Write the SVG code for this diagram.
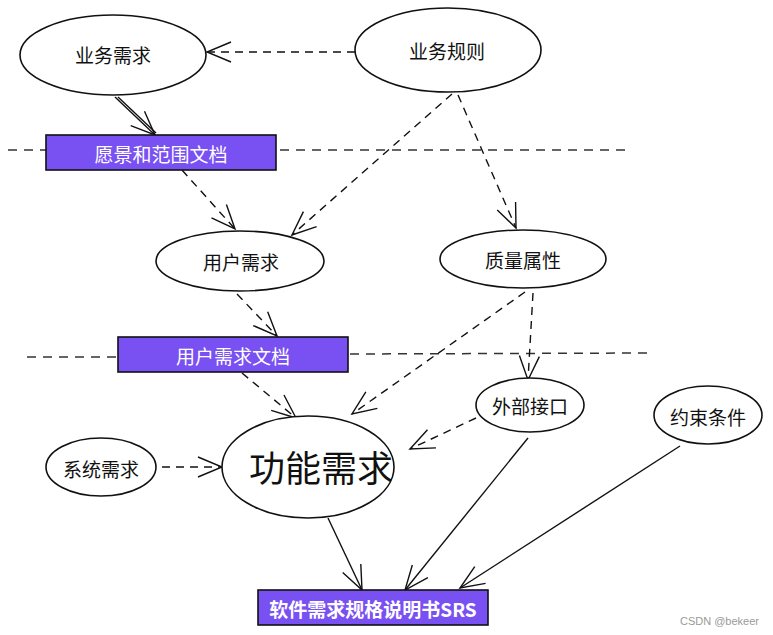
<svg xmlns="http://www.w3.org/2000/svg" width="773" height="635" viewBox="0 0 773 635">
<defs>
<marker id="arr" markerUnits="userSpaceOnUse" markerWidth="28" markerHeight="24" refX="25" refY="11" orient="auto" overflow="visible">
<path d="M1,1 L25,11 L1,21" fill="none" stroke="#111" stroke-width="1.4"/>
</marker>
<style>
.el{fill:#fff;stroke:#111;stroke-width:1.6}
.box{fill:#7950f2;stroke:#111;stroke-width:1.6}
.t{font-family:"Noto Sans CJK SC","Liberation Sans",sans-serif;font-size:19px;fill:#111;text-anchor:middle;dominant-baseline:central}
.tw{font-family:"Noto Sans CJK SC","Liberation Sans",sans-serif;font-size:19px;fill:#fff;text-anchor:middle;dominant-baseline:central}
.d{fill:none;stroke:#111;stroke-width:1.4;stroke-dasharray:8 6}
.s{fill:none;stroke:#111;stroke-width:1.4}
.sep{fill:none;stroke:#333;stroke-width:1.5;stroke-dasharray:9 7}
</style>
</defs>
<rect width="773" height="635" fill="#fff"/>
<g id="separators">
<line class="sep" x1="8" y1="150" x2="46" y2="150"/>
<line class="sep" x1="280" y1="150" x2="632" y2="150"/>
<line class="sep" x1="27" y1="357" x2="118" y2="357"/>
<line class="sep" x1="350" y1="354" x2="650" y2="353"/>
</g>
<g id="connectors">
<line class="d" x1="355" y1="52" x2="207" y2="52" marker-end="url(#arr)"/>
<line class="s" x1="115" y1="97" x2="155" y2="135" marker-end="url(#arr)"/>
<line class="s" x1="118" y1="97" x2="156" y2="133"/>
<line class="d" x1="182" y1="170" x2="235" y2="229" marker-end="url(#arr)"/>
<line class="d" x1="452" y1="94" x2="292" y2="235" marker-end="url(#arr)"/>
<line class="d" x1="458" y1="95" x2="516" y2="228" marker-end="url(#arr)"/>
<line class="d" x1="237" y1="294" x2="277" y2="336" marker-end="url(#arr)"/>
<line class="d" x1="242" y1="373" x2="296" y2="418" marker-end="url(#arr)"/>
<line class="d" x1="525" y1="292" x2="352" y2="414" marker-end="url(#arr)"/>
<line class="d" x1="533" y1="293" x2="528" y2="380" marker-end="url(#arr)"/>
<line class="d" x1="476" y1="418" x2="410" y2="449" marker-end="url(#arr)"/>
<line class="d" x1="162" y1="467" x2="222" y2="467" marker-end="url(#arr)"/>
<line class="s" x1="328" y1="518" x2="362" y2="590" marker-end="url(#arr)"/>
<line class="s" x1="528" y1="438" x2="405" y2="590" marker-end="url(#arr)"/>
<line class="s" x1="680" y1="446" x2="460" y2="588" marker-end="url(#arr)"/>
</g>
<g id="n-yewuxuqiu">
<ellipse class="el" cx="113" cy="55" rx="93" ry="40"/>
<text class="t" x="113" y="54">业务需求</text>
</g>
<g id="n-yewuguize">
<ellipse class="el" cx="448" cy="50" rx="93" ry="42"/>
<text class="t" x="447" y="50">业务规则</text>
</g>
<g id="n-yuanjing">
<rect class="box" x="46" y="135" width="230" height="35"/>
<text class="tw" x="161" y="153">愿景和范围文档</text>
</g>
<g id="n-yonghuxuqiu">
<ellipse class="el" cx="240" cy="261" rx="84" ry="30"/>
<text class="t" x="241" y="261">用户需求</text>
</g>
<g id="n-zhiliang">
<ellipse class="el" cx="523" cy="259" rx="83" ry="29"/>
<text class="t" x="523" y="259">质量属性</text>
</g>
<g id="n-yonghuwendang">
<rect class="box" x="118" y="337" width="230" height="35"/>
<text class="tw" x="233" y="355">用户需求文档</text>
</g>
<g id="n-waibu">
<ellipse class="el" cx="530" cy="405" rx="54" ry="27"/>
<text class="t" x="530" y="405">外部接口</text>
</g>
<g id="n-yueshu">
<ellipse class="el" cx="708" cy="415" rx="54" ry="29"/>
<text class="t" x="708" y="416">约束条件</text>
</g>
<g id="n-xitong">
<ellipse class="el" cx="101" cy="467" rx="55" ry="29"/>
<text class="t" x="101" y="468">系统需求</text>
</g>
<g id="n-gongneng">
<ellipse class="el" cx="308" cy="467" rx="86" ry="51"/>
<text class="t" x="321" y="466" style="font-size:36px">功能需求</text>
</g>
<g id="n-srs">
<rect class="box" x="258" y="590" width="230" height="35"/>
<text class="tw" x="373" y="608" style="font-weight:bold;font-size:19px">软件需求规格说明书SRS</text>
</g>
<text x="759" y="625" style="font-family:'Liberation Sans',sans-serif;font-size:11px;fill:#999;text-anchor:end">CSDN @bekeer</text>
</svg>
